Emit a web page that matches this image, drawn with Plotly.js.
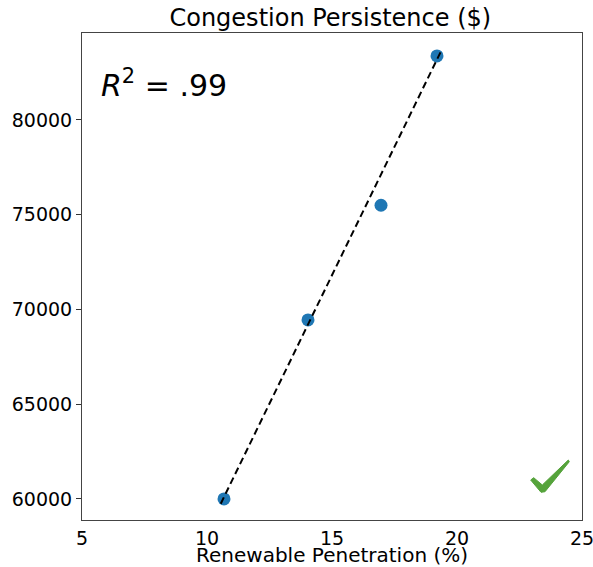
<!DOCTYPE html>
<html>
<head>
<meta charset="utf-8">
<script src="https://cdn.plot.ly/plotly-3.0.1.min.js"></script>
<style>html,body{margin:0;padding:0;background:#fff;}#chart{width:593px;height:567px;}</style>
</head>
<body>
<div id="chart"></div>
<script>
// Data
const penetration = [10.68, 14.04, 16.96, 19.2];
const congestion = [60000, 69450, 75500, 83380];
const fitX = [10.55, 19.35];
const fitY = [59750, 83600];
const xTicks = [5, 10, 15, 20, 25];
const yTicks = [60000, 65000, 70000, 75000, 80000];
const r2Label = ".99";

const font = "DejaVu Sans, sans-serif";

const traces = [
  {
    x: penetration, y: congestion, type: "scatter", mode: "markers",
    marker: {color: "#1f77b4", size: 13}, showlegend: false, hoverinfo: "skip"
  },
  {
    x: fitX, y: fitY, type: "scatter", mode: "lines",
    line: {color: "#000", width: 2, dash: "7px,4px"}, showlegend: false, hoverinfo: "skip"
  }
];

// green check mark decoration (paper coordinates)
const checkPath = "M0.8974,0.0821 L0.9034,0.0869 L0.9206,0.0719 L0.9726,0.1232 L0.9746,0.1197 L0.926,0.0581 L0.918,0.0569 Z";

const xRange = [5, 25];

const layout = {
  width: 593, height: 567,
  margin: {l: 82, r: 11, t: 33, b: 47},
  paper_bgcolor: "#fff", plot_bgcolor: "#fff",
  font: {family: font, color: "#000", size: 19},
  title: {text: "Congestion Persistence ($)", font: {family: font, size: 24, color: "#000"},
          x: 0.557, xanchor: "center", y: 0.983, yanchor: "top"},
  xaxis: {
    range: xRange, tickvals: xTicks, ticktext: xTicks.map(String),
    ticks: "", 
    showline: true, linecolor: "#444", linewidth: 1, mirror: true,
    showgrid: false, zeroline: false, ticklabeloverflow: "allow",
    ticklabelstandoff: 1,
    tickfont: {family: font, size: 19}
  },
  xaxis2: {
    range: xRange, tickvals: xTicks, overlaying: "x", anchor: "y", side: "bottom",
    ticks: "outside", ticklen: 4, tickwidth: 1, tickcolor: "#333",
    showticklabels: false, showline: false, showgrid: false, zeroline: false
  },
  yaxis: {
    range: [58890, 84590], tickvals: yTicks, ticktext: yTicks.map(String),
    ticks: "outside", ticklen: 5, tickwidth: 1, tickcolor: "#333",
    showline: true, linecolor: "#444", linewidth: 1, mirror: true,
    showgrid: false, zeroline: false,
    tickfont: {family: font, size: 19}
  },
  shapes: [
    {type: "path", xref: "paper", yref: "paper", path: checkPath,
     fillcolor: "#55a33b", line: {color: "#55a33b", width: 1}}
  ],
  annotations: [
    {
      xref: "paper", yref: "paper", x: 0.5, y: -0.0719, xanchor: "center", yanchor: "middle",
      text: "Renewable Penetration (%)", showarrow: false,
      font: {family: font, size: 20, color: "#000"}
    },
    {
      xref: "paper", yref: "paper", x: 0.034, y: 0.897, xanchor: "left", yanchor: "middle",
      text: "<i>R</i><sup>2</sup> = " + r2Label, showarrow: false,
      font: {family: font, size: 30, color: "#000"}
    }
  ]
};

Plotly.newPlot("chart", traces, layout, {displayModeBar: false, staticPlot: true});
</script>
</body>
</html>
